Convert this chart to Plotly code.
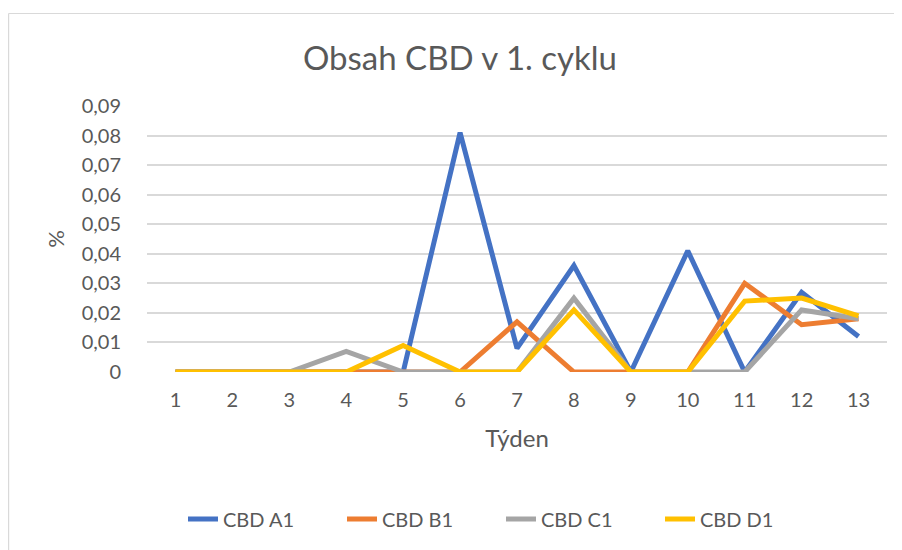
import plotly.graph_objects as go

weeks = [str(i) for i in range(1, 14)]
cbd_a1 = [0, 0, 0, 0, 0, 0.081, 0.008, 0.036, 0, 0.041, 0, 0.027, 0.012]
cbd_b1 = [0, 0, 0, 0, 0, 0, 0.017, 0, 0, 0, 0.030, 0.016, 0.018]
cbd_c1 = [0, 0, 0, 0.007, 0, 0, 0, 0.025, 0, 0, 0, 0.021, 0.018]
cbd_d1 = [0, 0, 0, 0, 0.009, 0, 0, 0.021, 0, 0, 0.024, 0.025, 0.019]

series = [
    ("CBD A1", cbd_a1, "#4472C4"),
    ("CBD B1", cbd_b1, "#ED7D31"),
    ("CBD C1", cbd_c1, "#A5A5A5"),
    ("CBD D1", cbd_d1, "#FFC000"),
]

FONT = "Lato, 'Open Sans', sans-serif"
GREY = "#595959"

# page offset of the figure (body margin)
OFF = 8
PL, PR, PT, PB = 147, 887, 106, 372  # plot area in page pixels
W, H = 902, 550

fig = go.Figure()
for name, vals, col in series:
    fig.add_trace(go.Scatter(x=weeks, y=vals, name=name, mode="lines",
                             line=dict(color=col, width=5)))

pw, ph = PR - PL, PB - PT

fig.update_layout(
    width=W, height=H,
    paper_bgcolor="white", plot_bgcolor="white",
    margin=dict(l=PL - OFF, r=W - (PR - OFF), t=PT - OFF, b=H - (PB - OFF)),
    separators=", ",
    font=dict(family=FONT, color=GREY, size=20),
    title=dict(text="Obsah CBD v 1. cyklu", x=(460 - OFF) / W, xref="container", xanchor="center",
               y=1 - (58 - OFF) / H, yref="container", yanchor="middle",
               font=dict(size=33, color=GREY, family=FONT)),
    xaxis=dict(type="category", range=[-0.5, 12.5], showgrid=False, showline=False,
               ticks="", ticklabelstandoff=14, tickfont=dict(size=20, color=GREY),
               title=dict(text="Týden", font=dict(size=24, color=GREY), standoff=20)),
    yaxis=dict(range=[0, 0.09], dtick=0.01, tickformat=".2~f", showgrid=True,
               gridcolor="#D9D9D9", gridwidth=1.5, zeroline=False, showline=False,
               ticks="", ticklabelstandoff=25,
               tickfont=dict(size=20, color=GREY),
               title=dict(text="%", font=dict(size=22, color=GREY), standoff=10)),
    legend=dict(orientation="h", x=(183 - OFF) / W, xanchor="left", xref="container",
                y=1 - (519 - OFF) / H, yref="container", yanchor="middle",
                font=dict(size=20, color=GREY), entrywidth=114, entrywidthmode="pixels",
                tracegroupgap=0),
    showlegend=True,
    shapes=[
        dict(type="line", xref="paper", yref="paper",
             x0=(8.5 - PL) / pw, x1=(960 - PL) / pw, y0=(PB - 13.5) / ph, y1=(PB - 13.5) / ph,
             line=dict(color="#D9D9D9", width=1.2)),
        dict(type="line", xref="paper", yref="paper",
             x0=(8.6 - PL) / pw, x1=(8.6 - PL) / pw, y0=(PB - 600) / ph, y1=(PB - 13.5) / ph,
             line=dict(color="#D9D9D9", width=1.2)),
    ],
)

fig.write_html("out.html")
